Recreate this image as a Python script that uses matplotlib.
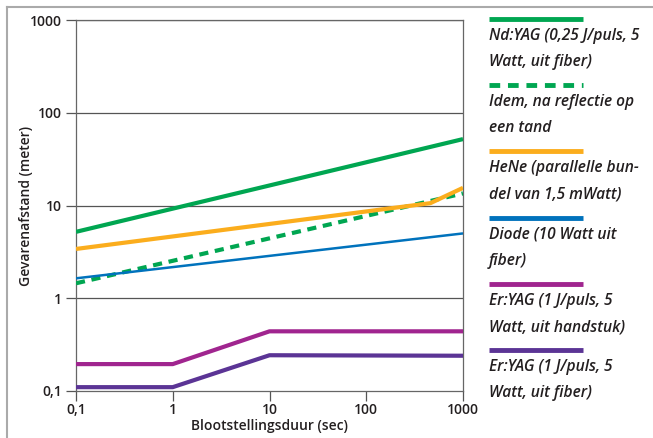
import matplotlib.pyplot as plt
from matplotlib.lines import Line2D
from matplotlib.ticker import FixedLocator, FixedFormatter, NullLocator

# data
tick_vals = [0.1, 1, 10, 100, 1000]
tick_labels = ['0,1', '1', '10', '100', '1000']

ndyag_x = [0.1, 1000]
ndyag_y = [5.2, 52]

idem_x = [0.1, 1000]
idem_y = [1.45, 13.5]

hene_x = [0.1, 460, 1000]
hene_y = [3.4, 10.6, 15.5]

diode_x = [0.1, 1000]
diode_y = [1.64, 5.0]

erhand_x = [0.1, 1, 10, 1000]
erhand_y = [0.195, 0.195, 0.44, 0.44]

erfiber_x = [0.1, 1, 10, 1000]
erfiber_y = [0.11, 0.11, 0.243, 0.24]

labels = [
    'Nd:YAG (0,25 J/puls, 5\nWatt, uit fiber)',
    'Idem, na reflectie op\neen tand',
    'HeNe (parallelle bun-\ndel van 1,5 mWatt)',
    'Diode (10 Watt uit\nfiber)',
    'Er:YAG (1 J/puls, 5\nWatt, uit handstuk)',
    'Er:YAG (1 J/puls, 5\nWatt, uit fiber)',
]
colors = ['#00a651', '#00a651', '#fbad1d', '#0072bc', '#a0258f', '#5b3495']
styles = ['-', '--', '-', '-', '-', '-']
widths = [3.0, 3.0, 3.0, 1.8, 3.0, 3.0]

plt.rcParams['font.family'] = ['Open Sans', 'DejaVu Sans']
txt = '#231f20'

fig = plt.figure(figsize=(6.53, 4.38), dpi=100)
ax = fig.add_axes([76 / 653, 1 - 391 / 438, 387 / 653, 371 / 438])
ax.set_xscale('log')
ax.set_yscale('log')
ax.set_xlim(0.1, 1000)
ax.set_ylim(0.1, 1000)

series = [(ndyag_x, ndyag_y), (idem_x, idem_y), (hene_x, hene_y),
          (diode_x, diode_y), (erhand_x, erhand_y), (erfiber_x, erfiber_y)]
for (xs, ys), c, ls, lw in zip(series, colors, styles, widths):
    kw = {'dashes': (2.2, 1.6)} if ls == '--' else {}
    ax.plot(xs, ys, color=c, lw=lw, solid_capstyle='butt', zorder=3, **kw)

# horizontal grid
for v in tick_vals[1:]:
    ax.axhline(v, color='#555555', lw=0.9, zorder=1)

for axis in (ax.xaxis, ax.yaxis):
    axis.set_major_locator(FixedLocator(tick_vals))
    axis.set_major_formatter(FixedFormatter(tick_labels))
    axis.set_minor_locator(NullLocator())
ax.tick_params(length=7, width=0.9, color='#555555', labelsize=10,
               labelcolor=txt)
ax.tick_params(axis='y', pad=3)
ax.tick_params(axis='x', pad=2)
for lab in ax.get_xticklabels() + ax.get_yticklabels():
    lab.set_fontweight('semibold')
for s in ax.spines.values():
    s.set_color('#666666')
    s.set_linewidth(0.9)

ax.set_xlabel('Blootstellingsduur (sec)', fontsize=10, fontweight='semibold',
              color=txt)
ax.set_ylabel('Gevarenafstand (meter)', fontsize=10, fontweight='semibold',
              color=txt)
ax.xaxis.set_label_coords(0.5, -0.075)
ax.yaxis.set_label_coords(-0.112, 0.5)

# legend drawn on the right side
for i, (lab, c, ls, lw) in enumerate(zip(labels, colors, styles, widths)):
    y0 = 1 - (19 + i * 66.2) / 438
    kw = {'dashes': (2.2, 1.6)} if ls == '--' else {}
    fig.add_artist(Line2D([489 / 653, 583 / 653], [y0, y0], color=c,
                          lw=3.5, solid_capstyle='butt', **kw))
    fig.text(489 / 653, y0 - 9 / 438, lab, fontsize=11.2, style='italic',
             fontweight='semibold', color=txt, va='top', ha='left',
             linespacing=1.85)

# frame lines of the original figure
fig.add_artist(Line2D([7 / 653, 1], [1 - 7 / 438, 1 - 7 / 438], color='#aaaaaa', lw=1.5))
fig.add_artist(Line2D([7 / 653, 7 / 653], [0, 1 - 7 / 438], color='#aaaaaa', lw=1.5))

fig.savefig('out.png', dpi=100)
